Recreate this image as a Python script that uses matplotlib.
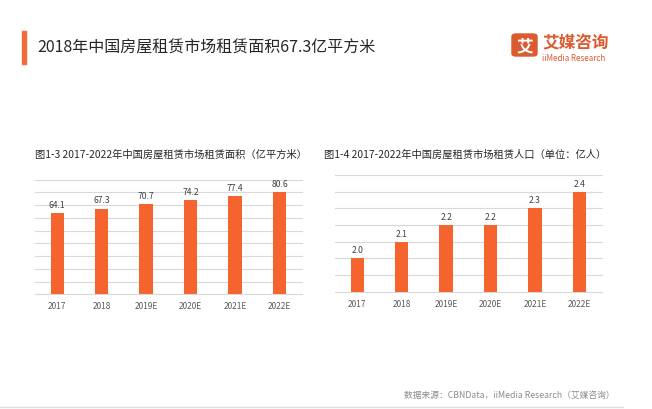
import matplotlib
matplotlib.use("Agg")
import matplotlib.pyplot as plt
from matplotlib.patches import Rectangle, FancyBboxPatch

plt.rcParams['font.family'] = ['Noto Sans CJK SC', 'DejaVu Sans']

# data
years = ["2017", "2018", "2019E", "2020E", "2021E", "2022E"]
area = [64.1, 67.3, 70.7, 74.2, 77.4, 80.6]          # 亿平方米
population = [2.0, 2.1, 2.2, 2.2, 2.3, 2.4]          # 亿人

main_title = "2018年中国房屋租赁市场租赁面积67.3亿平方米"
left_title = "图1-3 2017-2022年中国房屋租赁市场租赁面积（亿平方米）"
right_title = "图1-4 2017-2022年中国房屋租赁市场租赁人口（单位：亿人）"
source = "数据来源：CBNData，iiMedia Research（艾媒咨询）"

BAR = "#F5642F"
GRID = "#D9D9D9"
W, H = 652, 410

fig = plt.figure(figsize=(W / 100, H / 100), dpi=100)
fig.patch.set_facecolor("white")


def fx(px):
    return px / W


def fy(py):
    return 1 - py / H


def bar_panel(rect, values, ylim, step, fmt):
    ax = fig.add_axes(rect)
    x = range(len(values))
    bars = ax.bar(x, values, width=0.3, color=BAR, zorder=3)
    ax.set_xlim(-0.5, len(values) - 0.5)
    ax.set_ylim(*ylim)
    ticks = []
    t = ylim[0]
    while t <= ylim[1] + 1e-9:
        ticks.append(t)
        t += step
    for t in ticks:
        ax.axhline(t, color=GRID, lw=0.8, zorder=1, clip_on=False)
    ax.set_yticks([])
    ax.set_xticks(list(x))
    ax.set_xticklabels(years, fontsize=6, color="#595959")
    ax.tick_params(axis="x", length=0, pad=5)
    for s in ax.spines.values():
        s.set_visible(False)
    for b, v in zip(bars, values):
        ax.annotate(fmt.format(v), (b.get_x() + b.get_width() / 2, b.get_height()),
                    xytext=(0, 3), textcoords="offset points",
                    ha="center", va="bottom", fontsize=6.2, color="#404040")
    return ax


bar_panel([fx(35), fy(295.3), fx(266.7), (295.3 - 180.7) / H], area, (0, 90), 10, "{:.1f}")
bar_panel([fx(335), fy(292.7), fx(266.7), (292.7 - 176) / H], population, (1.8, 2.5), 0.1, "{:.1f}")

# subtitles
fig.text(fx(35), fy(155), left_title, fontsize=7.4, color="#262626", va="center", ha="left")
fig.text(fx(324), fy(155), right_title, fontsize=7.4, color="#262626", va="center", ha="left")

# header
fig.patches.append(Rectangle((fx(22), fy(65)), fx(4), 33 / H, transform=fig.transFigure,
                             color="#F26B3A", zorder=5))
fig.text(fx(37), fy(48), main_title, fontsize=11.5, color="#262626", va="center", ha="left")

# logo
fig.patches.append(FancyBboxPatch((fx(512), fy(57)), fx(25), 22 / H, transform=fig.transFigure,
                                  boxstyle="round,pad=0,rounding_size=0.006",
                                  color="#DC5A30", zorder=5))
fig.text(fx(524.5), fy(46.5), "艾", fontsize=12, color="white", weight="bold",
         ha="center", va="center", zorder=6)
fig.text(fx(542), fy(43.5), "艾媒咨询", fontsize=12, color="#DC5A30", weight="bold",
         ha="left", va="center")
fig.text(fx(542), fy(58.5), "iiMedia Research", fontsize=5.8, color="#DC5A30",
         ha="left", va="center")

# footer
fig.text(fx(615), fy(395), source, fontsize=6.3, color="#8C8C8C", ha="right", va="center")
fig.lines.append(plt.Line2D([0, fx(623)], [fy(408), fy(408)], transform=fig.transFigure,
                            color="#E0E0E0", lw=1))

fig.savefig("out.png", dpi=100)
